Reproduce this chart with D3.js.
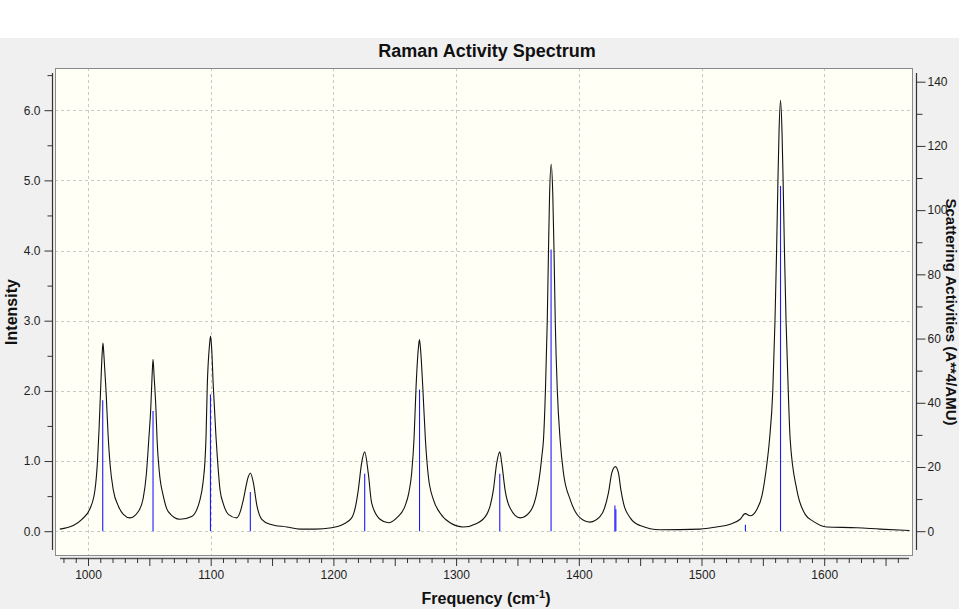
<!DOCTYPE html>
<html><head><meta charset="utf-8">
<script src="https://cdn.jsdelivr.net/npm/d3@7"></script>
<style>
html,body{margin:0;padding:0;background:#f0f0f0;}
svg{display:block;}
</style></head><body>
<svg id="c" width="959" height="609"></svg>
<script>
// Stick spectrum (frequency cm-1, Raman activity A^4/AMU — right axis)
const stickFreq = [1012, 1053, 1099.8, 1132.3, 1225.5, 1270.2, 1335.6, 1377.4, 1429.4, 1430.2, 1535.8, 1564.4];
const stickActivity = [40.8, 37.4, 42.6, 12.2, 17.9, 44.1, 17.9, 87.7, 8.0, 6.8, 2.0, 107.5];

// Broadened spectrum (frequency cm-1, intensity — left axis)
const curveFreq = [977,988,995,1001.6,1005.7,1007.8,1009,1010.4,1011.5,1012.2,1013,1014.7,1016.3,1018,1020.6,1024.7,1028.8,1034.2,1041,1045,1047.5,1049.7,1051.1,1052.2,1053,1053.9,1055.4,1056.3,1058.1,1061.4,1065.4,1075,1084.5,1091.3,1093.8,1095.4,1096.2,1097.2,1099,1099.9,1100.8,1102.1,1104.3,1105,1107.6,1110.5,1114.4,1121.2,1124.5,1126.6,1130.7,1132.3,1134.8,1137.5,1141.6,1148.4,1162,1172.8,1185,1198.6,1208.1,1214.9,1218,1220.3,1223,1225.5,1228.4,1231.2,1238,1244.8,1251.6,1258.4,1261.5,1263.8,1265.8,1267.4,1269.2,1270.1,1271,1272.8,1275,1277.4,1281.5,1286.9,1295.1,1305.9,1316.8,1325,1328,1330.4,1333.1,1335.6,1337.2,1339.9,1344,1352.2,1360.3,1365.8,1368.5,1369.9,1371.2,1372.8,1374.3,1375.3,1376.2,1377.5,1378.8,1379.8,1380.8,1382.5,1384.8,1387.5,1393,1401.1,1409.2,1417.4,1421,1424.2,1426.9,1429.8,1432.3,1434.2,1436.4,1441.9,1450,1466.3,1498.9,1512,1523.4,1531.5,1535.6,1539.7,1545.1,1549.2,1552.7,1555.4,1558.1,1559.9,1561.2,1562.3,1563.2,1564.4,1565.6,1566.5,1567.6,1568.9,1570.7,1572.3,1577.7,1584.5,1591.2,1602.1,1626.6,1645.6,1669.5];
const curveIntensity = [0.03,0.08,0.17,0.32,0.59,1.02,1.45,2.07,2.52,2.68,2.5,2.0,1.4,0.95,0.59,0.36,0.24,0.19,0.28,0.47,0.8,1.35,1.73,2.2,2.45,2.2,1.73,1.3,0.85,0.5,0.28,0.17,0.21,0.45,0.7,1.02,1.35,2.07,2.65,2.78,2.6,2.07,1.35,1.16,0.59,0.38,0.24,0.19,0.3,0.45,0.78,0.83,0.69,0.38,0.17,0.10,0.06,0.03,0.03,0.05,0.10,0.19,0.35,0.59,0.97,1.13,0.83,0.40,0.17,0.12,0.19,0.36,0.55,0.83,1.35,2.07,2.6,2.73,2.6,2.07,1.3,0.78,0.45,0.26,0.12,0.06,0.11,0.24,0.38,0.59,0.97,1.13,0.97,0.59,0.33,0.19,0.28,0.55,0.85,1.07,1.3,2.0,3.0,4.0,4.8,5.23,4.8,4.0,3.0,2.0,1.30,0.83,0.45,0.19,0.13,0.21,0.33,0.55,0.83,0.92,0.83,0.6,0.40,0.19,0.08,0.02,0.03,0.06,0.10,0.17,0.25,0.22,0.31,0.50,0.88,1.30,2.0,3.0,4.0,5.0,5.7,6.14,5.7,5.0,4.0,3.0,2.0,1.30,0.59,0.24,0.14,0.06,0.05,0.03,0.01];

const xTicks = [1000, 1100, 1200, 1300, 1400, 1500, 1600];
const yLeftTicks = [0, 1, 2, 3, 4, 5, 6];
const yRightTicks = [0, 20, 40, 60, 80, 100, 120, 140];

const titleText = "Raman Activity Spectrum";
const xLabelText = "Frequency (cm";
const xLabelSup = "-1";
const yLeftLabel = "Intensity";
const yRightLabel = "Scattering Activities (A**4/AMU)";

const FONT = "'Liberation Sans', Arial, sans-serif";
const svg = d3.select("#c");
svg.append("rect").attr("width", 959).attr("height", 609).attr("fill", "#f0f0f0");
svg.append("rect").attr("width", 959).attr("height", 38).attr("fill", "#ffffff");

const P = {l: 55, t: 68, r: 913, b: 556};
const x = d3.scaleLinear().domain([1000, 1600]).range([88, 824.2]);
const yL = d3.scaleLinear().domain([0, 6]).range([531.2, 110.2]);
const yR = d3.scaleLinear().domain([0, 140]).range([531.2, 81.7]);

// plot background
svg.append("rect").attr("x", P.l).attr("y", P.t).attr("width", P.r - P.l).attr("height", P.b - P.t)
  .attr("fill", "#fffff6");

svg.append("clipPath").attr("id", "pc").append("rect")
  .attr("x", P.l).attr("y", P.t).attr("width", P.r - P.l).attr("height", P.b - P.t);

// grid
const grid = svg.append("g").attr("stroke", "#c8c8c8").attr("stroke-dasharray", "3,3").attr("stroke-width", 1);
grid.selectAll("line.v").data(xTicks).join("line")
  .attr("x1", d => Math.round(x(d)) + 0.5).attr("x2", d => Math.round(x(d)) + 0.5)
  .attr("y1", P.t).attr("y2", P.b);
grid.selectAll("line.h").data(yLeftTicks).join("line")
  .attr("y1", d => Math.round(yL(d)) + 0.5).attr("y2", d => Math.round(yL(d)) + 0.5)
  .attr("x1", P.l).attr("x2", P.r);

// sticks
const g = svg.append("g").attr("clip-path", "url(#pc)");
g.selectAll("line.s").data(stickFreq).join("line")
  .attr("x1", d => x(d)).attr("x2", d => x(d))
  .attr("y1", yR(0)).attr("y2", (d, i) => yR(stickActivity[i]))
  .attr("stroke", "#1a1aff").attr("stroke-width", 1.1);

// curve
const pts = curveFreq.map((f, i) => [f, curveIntensity[i]]);
const line = d3.line().curve(d3.curveMonotoneX).x(d => x(d[0])).y(d => yL(d[1]));
g.append("path").datum(pts).attr("d", line).attr("fill", "none")
  .attr("stroke", "#111").attr("stroke-width", 1.1).attr("stroke-linejoin", "round");

// plot border
svg.append("rect").attr("x", P.l + 0.5).attr("y", P.t + 0.5).attr("width", P.r - P.l - 1).attr("height", P.b - P.t - 1)
  .attr("fill", "none").attr("stroke", "#8a8a8a");

function styleAxis(sel) {
  sel.selectAll("path.domain").remove();
  sel.selectAll("line").attr("stroke", "#333");
  sel.selectAll("text").attr("fill", "#1e1e1e").style("font-family", FONT).style("font-size", "12px");
}

// bottom axis
const minorX = d3.range(980, 1661, 10).filter(d => d % 50 !== 0);
const midX = d3.range(1000, 1661, 50);
const gx = svg.append("g").attr("transform", "translate(0,558)");
gx.append("line").attr("x1", 60).attr("x2", 909).attr("y1", 0.5).attr("y2", 0.5).attr("stroke", "#555").attr("stroke-width", 1.3);
gx.append("g").call(d3.axisBottom(x).tickValues(minorX).tickSize(5).tickFormat("")).call(styleAxis);
gx.append("g").call(d3.axisBottom(x).tickValues(midX).tickSize(8).tickFormat("")).call(styleAxis);
gx.append("g").call(d3.axisBottom(x).tickValues(xTicks).tickSize(0).tickPadding(12).tickFormat(d3.format("d"))).call(styleAxis);

// left axis
const gl = svg.append("g").attr("transform", "translate(52.5,0)");
gl.append("line").attr("x1", 0).attr("x2", 0).attr("y1", 73).attr("y2", 550).attr("stroke", "#333").attr("stroke-width", 1.2);
gl.append("g").call(d3.axisLeft(yL).tickValues([0.5,1.5,2.5,3.5,4.5,5.5,6.5]).tickSize(5).tickFormat("")).call(styleAxis);
gl.append("g").call(d3.axisLeft(yL).tickValues(yLeftTicks).tickSize(8).tickPadding(4).tickFormat(d3.format(".1f"))).call(styleAxis);

// right axis
const gr = svg.append("g").attr("transform", "translate(916.5,0)");
gr.append("line").attr("x1", 0).attr("x2", 0).attr("y1", 73).attr("y2", 550).attr("stroke", "#333").attr("stroke-width", 1.2);
gr.append("g").call(d3.axisRight(yR).tickValues([10,30,50,70,90,110,130]).tickSize(6).tickFormat("")).call(styleAxis);
gr.append("g").call(d3.axisRight(yR).tickValues(yRightTicks).tickSize(9).tickPadding(2).tickFormat(d3.format("d"))).call(styleAxis);

// title & labels
svg.append("text").attr("x", 487).attr("y", 57).attr("text-anchor", "middle")
  .style("font-family", FONT).style("font-weight", "bold").style("font-size", "18px").attr("fill", "#111")
  .text(titleText);

const xl = svg.append("text").attr("x", 486).attr("y", 604).attr("text-anchor", "middle")
  .style("font-family", FONT).style("font-weight", "bold").style("font-size", "16px").attr("fill", "#111");
xl.append("tspan").text(xLabelText);
xl.append("tspan").attr("dy", -6).style("font-size", "11px").text(xLabelSup);
xl.append("tspan").attr("dy", 6).text(")");

svg.append("text").attr("transform", "translate(17,312) rotate(-90)").attr("text-anchor", "middle")
  .style("font-family", FONT).style("font-weight", "bold").style("font-size", "16px").attr("fill", "#111")
  .text(yLeftLabel);

svg.append("text").attr("transform", "translate(946,312) rotate(90)").attr("text-anchor", "middle")
  .style("font-family", FONT).style("font-weight", "bold").style("font-size", "15px").attr("fill", "#111")
  .text(yRightLabel);
</script>
</body></html>
